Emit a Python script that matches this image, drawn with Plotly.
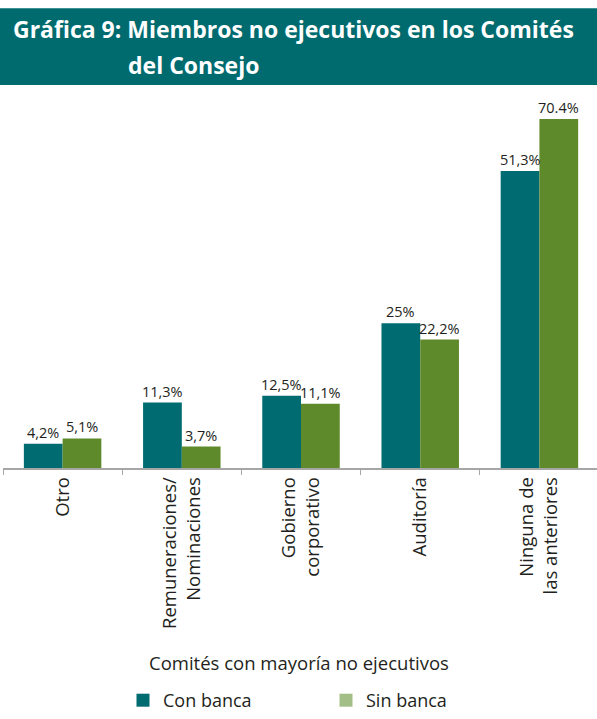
import plotly.graph_objects as go

# Committee categories (x axis) and percentages per group
categories = ["Otro", "Remuneraciones/<br>Nominaciones", "Gobierno<br>corporativo",
              "Auditoría", "Ninguna de<br>las anteriores"]
con_banca = [4.2, 11.3, 12.5, 25.0, 51.3]
sin_banca = [5.1, 3.7, 11.1, 22.2, 70.4]
con_banca_labels = ["4,2%", "11,3%", "12,5%", "25%", "51,3%"]
sin_banca_labels = ["5,1%", "3,7%", "11,1%", "22,2%", "70.4%"]

series_names = ["Con banca", "Sin banca"]
title_line1 = "Gráfica 9: Miembros no ejecutivos en los Comités"
title_line2 = "del Consejo"
axis_title = "Comités con mayoría no ejecutivos"

TEAL = "#006C72"
GREEN = "#5E8A2B"
GREEN_LIGHT = "#A4BE88"
BAND = "#006B6F"
TEXT = "#231F20"
FONT = "Open Sans"

W, H = 597, 719
M_L, M_R, M_T, M_B = 3, 0, 119, 250
Y_TOP = 60.3          # value axis ends here; taller bars are clipped
BARGAP = 0.35
X_RANGE = [-0.5, 4.483]

plot_w = W - M_L - M_R
plot_h = H - M_T - M_B


def px_x(px):
    """Horizontal pixel position -> paper coordinate."""
    return (px - M_L) / plot_w


def px_y(py):
    """Vertical pixel position (from top) -> paper coordinate."""
    return (H - M_B - py) / plot_h


fig = go.Figure()

for name, vals, color in [(series_names[0], con_banca, TEAL),
                          (series_names[1], sin_banca, GREEN)]:
    fig.add_trace(go.Bar(
        x=categories, y=vals, name=name,
        marker=dict(color=color, line=dict(width=0)),
        showlegend=False, hoverinfo="x+y",
    ))

# Legend swatches
for name, color in [(series_names[0], TEAL), (series_names[1], GREEN_LIGHT)]:
    fig.add_trace(go.Scatter(
        x=[None], y=[None], mode="markers", name=name,
        marker=dict(symbol="square", size=13, color=color),
        showlegend=True, hoverinfo="skip",
    ))

# Value labels above each bar
bar_w = (1 - BARGAP) / 2
annotations = []
for offset, vals, labels in [(-bar_w / 2, con_banca, con_banca_labels),
                             (bar_w / 2, sin_banca, sin_banca_labels)]:
    for i, (v, lab) in enumerate(zip(vals, labels)):
        annotations.append(dict(
            x=i + offset, y=min(v, Y_TOP), xref="x", yref="y",
            text=lab, showarrow=False, xanchor="center", yanchor="bottom",
            yshift=0, font=dict(family=FONT, size=14.5, color=TEXT),
        ))

# Title text on the band
annotations.append(dict(
    x=px_x(11), y=px_y(29), xref="paper", yref="paper",
    text=title_line1, showarrow=False, xanchor="left", yanchor="middle",
    font=dict(family=FONT, size=23, color="white", weight="bold"),
))
annotations.append(dict(
    x=px_x(126), y=px_y(65), xref="paper", yref="paper",
    text=title_line2, showarrow=False, xanchor="left", yanchor="middle",
    font=dict(family=FONT, size=23, color="white", weight="bold"),
))
# Category axis title
annotations.append(dict(
    x=px_x(299), y=px_y(664), xref="paper", yref="paper",
    text=axis_title, showarrow=False, xanchor="center", yanchor="middle",
    font=dict(family=FONT, size=18.5, color=TEXT),
))

fig.update_layout(
    width=W, height=H,
    margin=dict(l=M_L, r=M_R, t=M_T, b=M_B, pad=0),
    paper_bgcolor="white", plot_bgcolor="white",
    barmode="group", bargap=BARGAP, bargroupgap=0,
    font=dict(family=FONT, color=TEXT),
    shapes=[dict(
        type="rect", xref="paper", yref="paper",
        x0=px_x(0), x1=px_x(W), y0=px_y(85), y1=px_y(8),
        fillcolor=BAND, line=dict(width=0), layer="below",
    )],
    annotations=annotations,
    xaxis=dict(
        type="category", categoryorder="array", categoryarray=categories,
        range=X_RANGE, showline=True, linecolor="#A6A6A6", linewidth=1.5,
        ticks="outside", tickson="boundaries", ticklen=5, tickcolor="#A6A6A6",
        tickwidth=1, tickangle=-90, showgrid=False, zeroline=False,
        tickfont=dict(family=FONT, size=18.5, color=TEXT),
    ),
    yaxis=dict(range=[0, Y_TOP], visible=False, showgrid=False, zeroline=False),
    legend=dict(
        orientation="h", x=px_x(123), y=px_y(702), xanchor="left", yanchor="middle",
        font=dict(family=FONT, size=18, color=TEXT),
        entrywidth=158, entrywidthmode="pixels",
        bgcolor="rgba(0,0,0,0)", borderwidth=0,
    ),
)

fig.write_html("out.html")
